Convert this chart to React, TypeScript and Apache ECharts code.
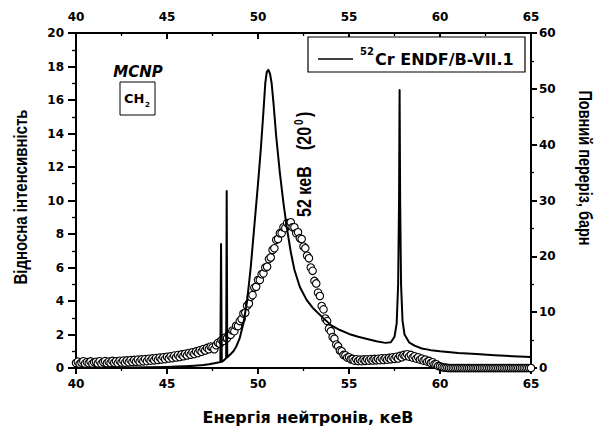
import React, { useEffect, useRef } from "react";
import * as echarts from "echarts";

// Measured spectrum (relative intensity, left axis), sampled every 0.1 keV from 40.0 keV
const measuredStartKeV = 40;
const measuredStepKeV = 0.1;
const measuredIntensity = [
  0.30, 0.38, 0.24, 0.33, 0.40, 0.26, 0.35, 0.28, 0.39, 0.25, 0.34,
  0.37, 0.27, 0.40, 0.26, 0.36, 0.41, 0.28, 0.38, 0.30, 0.42,
  0.31, 0.40, 0.29, 0.43, 0.33, 0.44, 0.32, 0.45, 0.34, 0.47,
  0.36, 0.48, 0.37, 0.50, 0.38, 0.51, 0.40, 0.53, 0.41, 0.55,
  0.44, 0.57, 0.46, 0.59, 0.48, 0.62, 0.51, 0.64, 0.53, 0.67,
  0.57, 0.70, 0.59, 0.74, 0.63, 0.77, 0.66, 0.81, 0.70, 0.85,
  0.75, 0.89, 0.79, 0.94, 0.84, 0.99, 0.90, 1.06, 0.97, 1.13,
  1.05, 1.20, 1.12, 1.28, 1.22, 1.12, 1.36, 1.50, 1.45, 1.66,
  1.62, 1.82, 1.78, 2.00, 1.98, 2.24, 2.20, 2.52, 2.50, 2.80,
  2.92, 3.25, 3.30, 3.72, 3.85, 4.25, 4.35, 4.80, 4.85, 5.25,
  5.25, 5.60, 5.65, 6.00, 6.05, 6.50, 6.60, 7.05, 7.15, 7.65,
  7.70, 8.05, 8.05, 8.40, 8.35, 8.65, 8.55, 8.70, 8.40, 8.40,
  8.05, 8.10, 7.75, 7.70, 7.25, 7.15, 6.70, 6.55, 6.00, 5.80,
  5.20, 5.05, 4.50, 4.30, 3.70, 3.50, 2.95, 2.80, 2.35, 2.20,
  1.85, 1.75, 1.40, 1.30, 1.05, 1.00, 0.78, 0.76, 0.62, 0.64,
  0.52, 0.54, 0.44, 0.52, 0.42, 0.50, 0.41, 0.51, 0.43, 0.52,
  0.44, 0.53, 0.45, 0.54, 0.46, 0.55, 0.47, 0.58, 0.48, 0.58,
  0.50, 0.60, 0.52, 0.64, 0.55, 0.67, 0.57, 0.72, 0.64, 0.78,
  0.72, 0.82, 0.68, 0.78, 0.62, 0.70, 0.56, 0.64, 0.50, 0.56,
  0.44, 0.50, 0.38, 0.42, 0.30, 0.34, 0.22, 0.22, 0.12, 0.10,
  0.06, 0.03, 0.02, 0.01, 0, 0, 0, 0, 0, 0,
  0, 0, 0, 0, 0, 0, 0, 0, 0, 0,
  0, 0, 0, 0, 0, 0, 0, 0, 0, 0,
  0, 0, 0, 0, 0, 0, 0, 0, 0, 0,
  0, 0, 0, 0, 0, 0, 0, 0, 0, 0,
];

// 52Cr ENDF/B-VII.1 total cross-section (barn, right axis)
const crossEnergy = [
  40, 41, 42, 43, 44, 45, 45.5, 46, 46.5, 47, 47.3, 47.6, 47.8, 47.93, 47.97, 48.01,
  48.1, 48.2, 48.25, 48.28, 48.31, 48.37, 48.5, 48.65, 48.8, 49.0, 49.2, 49.4, 49.6,
  49.8, 50.0, 50.15, 50.3, 50.4, 50.48, 50.57, 50.66, 50.75, 50.85, 51.0, 51.2, 51.4,
  51.6, 51.8, 52.0, 52.3, 52.67, 53.0, 53.5, 54.0, 54.5, 55.0, 55.5, 56.0, 56.5, 57.0,
  57.3, 57.5, 57.62, 57.7, 57.75, 57.78, 57.81, 57.86, 57.94, 58.05, 58.3, 58.6, 59.0,
  59.5, 60, 61, 62, 63, 64, 65,
];
const crossBarn = [
  0.05, 0.06, 0.08, 0.1, 0.14, 0.2, 0.25, 0.32, 0.42, 0.55, 0.68, 0.85, 0.98, 1.05, 22.2, 1.1,
  1.3, 1.6, 1.8, 31.7, 1.9, 2.1, 2.5, 3.0, 3.8, 5.4, 8.0, 12.0, 18.0,
  25.5, 33.0, 39.0, 46.0, 51.0, 53.0, 53.4, 52.7, 51.0, 47.5, 41.5, 35.0, 29.5,
  24.8, 20.8, 17.6, 14.5, 12.2, 10.8, 9.2, 7.7, 6.8, 6.1, 5.6, 5.2, 4.8, 4.5,
  4.6, 5.6, 8.0, 15.0, 30.0, 49.8, 30.0, 15.0, 8.5, 6.0, 4.6, 4.0, 3.5,
  3.2, 3.0, 2.7, 2.5, 2.3, 2.1, 1.95,
];

const xTicks = { min: 40, max: 65, interval: 5 };
const leftTicks = { min: 0, max: 20, interval: 2 };
const rightTicks = { min: 0, max: 60, interval: 10 };

const legendText = "Cr ENDF/B-VII.1";
const xName = "Енергія нейтронів, кеВ";
const leftName = "Відносна інтенсивність";
const rightName = "Повний переріз, барн";

const FONT = "'DejaVu Sans', sans-serif";
const FONT_L = "'Liberation Sans', Arial, sans-serif";

export default function App() {
  const ref = useRef<HTMLDivElement>(null);
  useEffect(() => {
    if (!ref.current) return;
    const chart = echarts.init(ref.current, undefined, { renderer: "svg" });
    const measured = measuredIntensity.map((v, i) => [
      +(measuredStartKeV + i * measuredStepKeV).toFixed(2),
      v,
    ]);
    const cross = crossEnergy.map((e, i) => [e, crossBarn[i]]);
    const axisLineStyle = { color: "#000", width: 2 };
    const labelStyle = {
      color: "#000",
      fontFamily: FONT,
      fontWeight: "bold" as const,
      fontSize: 12,
    };
    const xAxisBase = (pos: "top" | "bottom", inside: boolean) => ({
      type: "value" as const,
      position: pos,
      min: xTicks.min,
      max: xTicks.max,
      interval: xTicks.interval,
      axisLine: { show: true, onZero: false, lineStyle: axisLineStyle },
      axisTick: { show: true, inside, length: 6, lineStyle: axisLineStyle },
      minorTick: { show: true, splitNumber: 2, length: 3, lineStyle: { color: "#000", width: 1.3 } },
      splitLine: { show: false },
      axisLabel: { ...labelStyle, margin: 10 },
    });
    chart.setOption({
      animation: false,
      backgroundColor: "#fff",
      grid: { left: 76, right: 67, top: 33, bottom: 60, containLabel: false },
      xAxis: [xAxisBase("bottom", false), xAxisBase("top", true)],
      yAxis: [
        {
          type: "value",
          position: "left",
          min: leftTicks.min,
          max: leftTicks.max,
          interval: leftTicks.interval,
          axisLine: { show: true, onZero: false, lineStyle: axisLineStyle },
          axisTick: { show: true, inside: false, length: 8, lineStyle: axisLineStyle },
          minorTick: { show: true, splitNumber: 2, length: 4, lineStyle: { color: "#000", width: 1.3 } },
          splitLine: { show: false },
          axisLabel: { ...labelStyle, margin: 12 },
        },
        {
          type: "value",
          position: "right",
          min: rightTicks.min,
          max: rightTicks.max,
          interval: rightTicks.interval,
          axisLine: { show: true, onZero: false, lineStyle: axisLineStyle },
          axisTick: { show: true, inside: false, length: 6, lineStyle: axisLineStyle },
          minorTick: { show: true, splitNumber: 2, length: 3, lineStyle: { color: "#000", width: 1.3 } },
          splitLine: { show: false },
          axisLabel: { ...labelStyle, margin: 8 },
        },
      ],
      series: [
        {
          type: "scatter",
          xAxisIndex: 0,
          yAxisIndex: 0,
          data: measured,
          symbol: "circle",
          symbolSize: 7.5,
          itemStyle: { color: "#fff", borderColor: "#000", borderWidth: 1.1, opacity: 1 },
          z: 2,
        },
        {
          type: "line",
          xAxisIndex: 0,
          yAxisIndex: 1,
          data: cross,
          showSymbol: false,
          symbol: "none",
          lineStyle: { color: "#000", width: 2, join: "round", cap: "round" },
          z: 3,
        },
      ],
      graphic: [
        // legend
        {
          type: "rect",
          shape: { x: 308, y: 37, width: 217, height: 35 },
          style: { fill: "#fff", stroke: "#000", lineWidth: 1.2 },
          z: 10,
        },
        {
          type: "line",
          shape: { x1: 318, y1: 59, x2: 353, y2: 59 },
          style: { stroke: "#000", lineWidth: 1.5 },
          z: 11,
        },
        {
          type: "text",
          x: 360,
          y: 51,
          style: { text: "52", font: `bold 10px ${FONT}`, fill: "#000", verticalAlign: "middle" },
          z: 11,
        },
        {
          type: "text",
          x: 375,
          y: 59,
          style: { text: legendText, font: `bold 16px ${FONT}`, fill: "#000", verticalAlign: "middle" },
          z: 11,
        },
        // MCNP / CH2
        {
          type: "text",
          x: 138,
          y: 72,
          style: {
            text: "MCNP",
            font: `italic bold 15px ${FONT}`,
            fill: "#000",
            align: "center",
            verticalAlign: "middle",
          },
          z: 11,
        },
        {
          type: "rect",
          shape: { x: 120, y: 82, width: 35, height: 33 },
          style: { fill: "none", stroke: "#000", lineWidth: 1 },
          z: 11,
        },
        {
          type: "text",
          x: 124,
          y: 98,
          style: { text: "CH", font: `bold 13px ${FONT}`, fill: "#000", verticalAlign: "middle" },
          z: 11,
        },
        {
          type: "text",
          x: 145,
          y: 105,
          style: { text: "2", font: `bold 7px ${FONT}`, fill: "#000", verticalAlign: "middle" },
          z: 11,
        },
        // rotated annotation
        {
          type: "group",
          x: 304,
          y: 162,
          rotation: Math.PI / 2,
          scaleY: 1.3,
          children: [
            {
              type: "text",
              x: -55,
              y: 0,
              style: { text: "52 кеВ", font: `bold 16px ${FONT_L}`, fill: "#000", verticalAlign: "middle" },
            },
            {
              type: "text",
              x: 12,
              y: 0,
              style: { text: "(20", font: `bold 16px ${FONT_L}`, fill: "#000", verticalAlign: "middle" },
            },
            {
              type: "text",
              x: 37,
              y: -4,
              style: { text: "0", font: `bold 10px ${FONT_L}`, fill: "#000", verticalAlign: "middle" },
            },
            {
              type: "text",
              x: 45,
              y: 0,
              style: { text: ")", font: `bold 16px ${FONT_L}`, fill: "#000", verticalAlign: "middle" },
            },
          ],
          z: 11,
        },
        // axis names
        {
          type: "text",
          x: 308,
          y: 417,
          style: {
            text: xName,
            font: `bold 16px ${FONT}`,
            fill: "#000",
            align: "center",
            verticalAlign: "middle",
          },
        },
        {
          type: "text",
          x: 21,
          y: 197,
          rotation: Math.PI / 2,
          scaleY: 1.2,
          style: {
            text: leftName,
            font: `bold 15px ${FONT_L}`,
            fill: "#000",
            align: "center",
            verticalAlign: "middle",
          },
        },
        {
          type: "text",
          x: 585,
          y: 168,
          rotation: -Math.PI / 2,
          scaleY: 1.3,
          style: {
            text: rightName,
            font: `bold 14.5px ${FONT_L}`,
            fill: "#000",
            align: "center",
            verticalAlign: "middle",
          },
        },
      ],
    });
    return () => chart.dispose();
  }, []);
  return (
    <div
      ref={ref}
      style={{ position: "fixed", left: 0, top: 0, width: 598, height: 428, background: "#fff" }}
    />
  );
}
